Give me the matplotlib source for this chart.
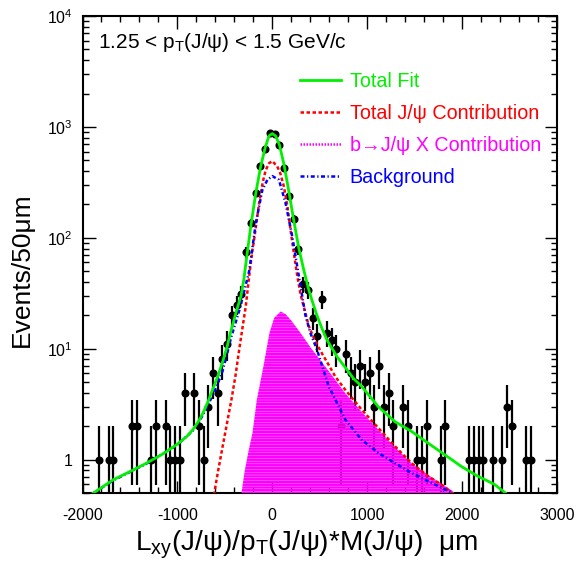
import numpy as np
import matplotlib
matplotlib.use('Agg')
import matplotlib.pyplot as plt
from matplotlib.lines import Line2D
from matplotlib.ticker import LogLocator, MultipleLocator, FuncFormatter, NullFormatter

plt.rcParams['font.family'] = ['Liberation Sans', 'DejaVu Sans']
plt.rcParams['mathtext.fontset'] = 'custom'
plt.rcParams['mathtext.rm'] = 'Liberation Sans'
plt.rcParams['mathtext.it'] = 'Liberation Sans:italic'
plt.rcParams['mathtext.bf'] = 'Liberation Sans:bold'
plt.rcParams['axes.unicode_minus'] = False
plt.rcParams['hatch.linewidth'] = 1.8

# data points (bin centres, 50 um bins)
bin_x = [-1825, -1725, -1675, -1475, -1425, -1275, -1225, -1125, -1075, -1025,
         -975, -925, -825, -775, -725, -675, -625, -575, -525, -475,
         -425, -375, -325, -275, -225, -175, -125, -75, -25, 25,
         75, 125, 175, 225, 275, 325, 375, 425, 475, 525,
         575, 625, 675, 725, 775, 825, 875, 925, 975, 1025,
         1075, 1125, 1175, 1225, 1275, 1375, 1425, 1525, 1575, 1625,
         1775, 1825, 2075, 2125, 2175, 2225, 2325, 2425, 2475, 2525,
         2675, 2725]
counts = [1, 1, 1, 2, 2, 1, 2, 2, 1, 1,
          1, 4, 4, 2, 1, 3, 6, 4, 8, 11,
          20, 25, 31, 74, 137, 256, 445, 630, 889, 860,
          689, 425, 239, 147, 79, 38, 34, 19, 13, 28,
          14, 12, 10, 2, 9, 6, 5, 7, 5, 6,
          3, 7, 3, 4, 2, 3, 2, 1, 1, 2,
          1, 2, 1, 1, 1, 1, 1, 1, 3, 2,
          1, 1]

# total fit (green)
fit_x = [-1900, -1675, -1500, -1326, -1150, -1011, -900, -838, -780, -733,
         -680, -628, -576, -524, -476, -436, -384, -330, -300, -275,
         -225, -175, -125, -75, -35, 0, 35, 75, 125, 175,
         225, 280, 330, 384, 420, 470, 520, 576, 681, 785,
         855, 942, 1117, 1292, 1466, 1641, 1815, 1990, 2164, 2339, 2444, 2480]
fit_y = [0.49, 0.66, 0.78, 0.93, 1.13, 1.36, 1.62, 1.86, 2.2, 2.6,
         3.3, 4.3, 5.6, 7.6, 10.5, 14.5, 21, 30, 42, 62,
         130, 250, 430, 650, 830, 870, 830, 690, 450, 260,
         145, 80, 52, 34, 27, 20, 15.5, 12.0, 8.5, 6.5,
         5.4, 4.57, 3.0, 2.2, 1.8, 1.41, 1.11, 0.87, 0.71, 0.6, 0.51, 0.48]

# total J/psi (red)
jpsi_x = [-615, -570, -521, -470, -430, -384, -349, -314, -280, -244,
          -209, -192, -139, -100, -70, -35, 0, 52, 85, 122,
          160, 192, 230, 262, 297, 349, 384, 437, 506, 576,
          664, 768, 942, 1117, 1292, 1466, 1641, 1815, 1900]
jpsi_y = [0.48, 0.8, 1.35, 2.3, 3.5, 6.0, 9.8, 15.5, 24, 45,
          78, 96, 205, 320, 406, 470, 492, 440, 380, 290,
          190, 118, 70, 46, 31, 21, 16, 12.5, 9.6, 7.6,
          5.6, 4.27, 2.82, 1.93, 1.32, 0.93, 0.71, 0.57, 0.49]

# b -> J/psi X (magenta)
bjpsi_x = [-340, -325, -290, -250, -209, -163, -94, -30, 20, 88,
           140, 192, 297, 402, 500, 594, 768, 942, 1117, 1292,
           1466, 1650, 1903, 1950]
bjpsi_y = [0.4, 0.5, 0.8, 1.2, 1.74, 3.47, 6.9, 13.9, 19, 21.7,
           20.5, 18.3, 13.9, 10.3, 8.0, 6.3, 3.98, 2.7, 1.86, 1.3,
           0.93, 0.72, 0.52, 0.46]

# background (blue)
bkg_x = [-1900, -1675, -1326, -1011, -838, -733, -680, -628, -576, -524,
         -476, -436, -384, -349, -300, -244, -174, -105, -52, 0,
         70, 140, 210, 280, 349, 402, 471, 530, 594, 768,
         942, 1117, 1292, 1466, 1641, 1815, 1900]
bkg_y = [0.49, 0.65, 0.92, 1.34, 1.82, 2.5, 3.1, 3.8, 4.8, 6.3,
         9.0, 12.5, 17.5, 22, 32, 50, 135, 270, 333, 360,
         333, 205, 103, 45, 20, 13.8, 9.8, 6.8, 4.6, 2.3,
         1.51, 1.15, 0.93, 0.76, 0.64, 0.54, 0.5]

GREEN = '#00f000'
RED = '#ff0000'
MAGENTA = '#ff00ff'
BLUE = '#0000ff'

fig = plt.figure(figsize=(5.81, 5.65), dpi=100)
ax = fig.add_axes([0.142, 0.1274, 0.8167, 0.8443])

cnt = np.array(counts, dtype=float)
err = np.sqrt(cnt)
err_lo = np.minimum(err, cnt * 0.999)
ax.errorbar(bin_x, cnt, yerr=[err_lo, err], fmt='o', color='k', ms=4.8,
            elinewidth=1.6, capsize=0, zorder=2)

ax.fill_between(bjpsi_x, bjpsi_y, 0.01, facecolor='none', edgecolor=MAGENTA,
                hatch='------', linewidth=0, zorder=3)
l_red, = ax.plot(jpsi_x, jpsi_y, color=RED, lw=1.8, ls=(0, (1.4, 1.0)), zorder=4)
l_blue, = ax.plot(bkg_x, bkg_y, color=BLUE, lw=1.8, ls=(0, (1.6, 1.0, 0.5, 1.0)), zorder=5)
l_green, = ax.plot(fit_x, fit_y, color=GREEN, lw=2.0, zorder=6)

ax.set_yscale('log')
ax.set_xlim(-2000, 3000)
ax.set_ylim(0.5, 1e4)

ax.xaxis.set_major_locator(MultipleLocator(1000))
ax.xaxis.set_minor_locator(MultipleLocator(200))
ax.yaxis.set_major_locator(LogLocator(base=10, numticks=10))
ax.yaxis.set_minor_locator(LogLocator(base=10, subs=np.arange(2, 10), numticks=20))
ax.yaxis.set_minor_formatter(NullFormatter())


def ylab(v, pos):
    if abs(v - 1) < 1e-9:
        return '1'
    return r'$10^{%d}$' % round(np.log10(v))


ax.yaxis.set_major_formatter(FuncFormatter(ylab))
ax.tick_params(which='both', direction='in', top=True, right=True, width=1.0,
               labelsize=11.5)
ax.tick_params(which='major', length=9)
ax.tick_params(which='minor', length=4.5)
ax.tick_params(axis='x', pad=10.5)
ax.tick_params(axis='y', pad=7)
for s in ax.spines.values():
    s.set_linewidth(1.5)

ax.text(0.033, 0.9435, r'1.25 < p$_{\mathrm{T}}$(J/ψ) < 1.5 GeV/c',
        transform=ax.transAxes, fontsize=15, va='center', ha='left')

h_mag = Line2D([], [], color=MAGENTA, lw=1.8, ls=(0, (0.6, 0.6)))
ax.legend([l_green, l_red, h_mag, l_blue],
          ['Total Fit', 'Total J/ψ Contribution', 'b→J/ψ X Contribution', 'Background'],
          loc='upper left', bbox_to_anchor=(0.458, 0.883), frameon=False,
          fontsize=14.2, handlelength=2.1, handletextpad=0.42, labelspacing=0.66,
          borderpad=0, borderaxespad=0, labelcolor='linecolor')

fig.text(135 / 581, 1 - 545 / 565,
         r'L$_{\mathrm{xy}}$(J/ψ)/p$_{\mathrm{T}}$(J/ψ)*M(J/ψ)  μm',
         fontsize=20.2, ha='left', va='center')
fig.text(22 / 581, 1 - 270 / 565, 'Events/50μm', fontsize=19, rotation=90,
         ha='center', va='center')

fig.savefig('out.png', dpi=100)
